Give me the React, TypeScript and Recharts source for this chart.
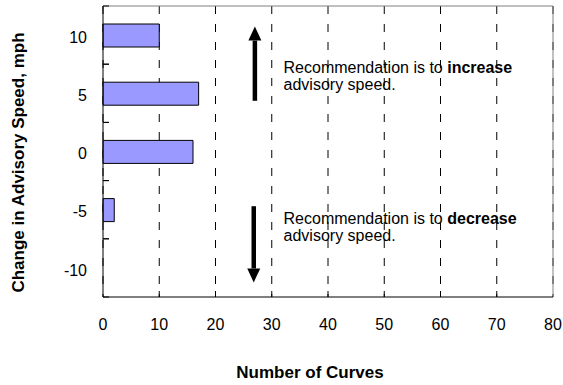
import React from 'react';
import {
  BarChart,
  Bar,
  XAxis,
  YAxis,
  CartesianGrid,
  ReferenceLine,
  ReferenceDot
} from 'recharts';

// change in advisory speed (mph), top to bottom, and how many curves got it
const speedChanges = ['10', '5', '0', '-5', '-10'];
const curveCounts = [10, 17, 16, 2, 0];

const xTicks = [0, 10, 20, 30, 40, 50, 60, 70, 80];

const data = speedChanges.map((speed, i) => ({ speed, curves: curveCounts[i] }));

const FONT = '"Liberation Sans", Arial, Helvetica, sans-serif';
const X_TICK_GAP = 22;
const Y_TICK_GAP = 16;

// arrow along a segment; tailExt / tipExt push the ends past the band centres
const makeArrow = (tailExt: number, tipExt: number) => (props: any) => {
  const { x1, y1, x2, y2 } = props;
  const dir = y2 < y1 ? -1 : 1;
  const tail = y1 - dir * tailExt;
  const tip = y2 + dir * tipExt;
  const head = 14;
  const half = 6.5;
  const baseY = tip - dir * head;
  return (
    <g>
      <line x1={x1} y1={tail} x2={x2} y2={baseY} stroke="#000" strokeWidth={4.5} />
      <polygon points={`${x2},${tip} ${x2 - half},${baseY} ${x2 + half},${baseY}`} fill="#000" />
    </g>
  );
};

const makeNote = (word: string, shift: number) => (props: any) => {
  const { cx, cy } = props;
  return (
    <text x={cx} y={cy + shift} fontSize={16} fontFamily={FONT} fill="#000">
      <tspan>Recommendation is to </tspan>
      <tspan fontWeight="bold">{word}</tspan>
      <tspan x={cx} dy={17}>advisory speed.</tspan>
    </text>
  );
};

const YTick = (props: any) => {
  const { x, y, payload } = props;
  const half = payload && payload.offset ? payload.offset : 29;
  const axisX = x + Y_TICK_GAP;
  return (
    <g>
      <line x1={axisX} y1={y - half} x2={axisX + 6} y2={y - half} stroke="#000" />
      <line x1={axisX} y1={y + half} x2={axisX + 6} y2={y + half} stroke="#000" />
      <text x={x} y={y + 2} dy="0.355em" textAnchor="end" fontSize={16} fontFamily={FONT} fill="#000">
        {payload.value}
      </text>
    </g>
  );
};

const XTick = (props: any) => {
  const { x, y, payload } = props;
  const axisY = y - X_TICK_GAP;
  const inner = payload.value > 0 && payload.value < 80;
  return (
    <g>
      {inner && <line x1={x} y1={axisY} x2={x} y2={axisY - 6} stroke="#000" />}
      <text x={x} y={y} dy="0.71em" textAnchor="middle" fontSize={16} fontFamily={FONT} fill="#000">
        {payload.value}
      </text>
    </g>
  );
};

const YTitle = (props: any) => {
  const vb = props.viewBox;
  const x = vb.x + 18;
  const y = vb.y + vb.height / 2 + 11;
  return (
    <text
      x={x}
      y={y}
      transform={`rotate(-90, ${x}, ${y})`}
      textAnchor="middle"
      dominantBaseline="central"
      fontSize={17}
      fontWeight="bold"
      fontFamily={FONT}
      fill="#000"
    >
      Change in Advisory Speed, mph
    </text>
  );
};

const XTitle = (props: any) => {
  const vb = props.viewBox;
  return (
    <text
      x={vb.x + vb.width / 2 - 18}
      y={vb.y + 75}
      textAnchor="middle"
      dominantBaseline="central"
      fontSize={17}
      fontWeight="bold"
      fontFamily={FONT}
      fill="#000"
    >
      Number of Curves
    </text>
  );
};

export default function App() {
  return (
    <div style={{ position: 'absolute', left: 0, top: 0, background: '#fff' }}>
      <BarChart
        width={563}
        height={385}
        data={data}
        layout="vertical"
        margin={{ top: 6, right: 10, bottom: 0, left: 0 }}
      >
        <CartesianGrid horizontal={false} stroke="#000" strokeDasharray="8 10" />
        {/* plot frame, top edge */}
        <CartesianGrid
          vertical={false}
          stroke="#808080"
          horizontalCoordinatesGenerator={(p: any) => [p.offset.top]}
        />
        <XAxis
          type="number"
          dataKey="curves"
          domain={[0, 80]}
          ticks={xTicks}
          height={88}
          tickLine={false}
          tickSize={0}
          tickMargin={X_TICK_GAP}
          axisLine={{ stroke: '#000' }}
          tick={XTick}
          label={{ content: XTitle }}
        />
        <YAxis
          type="category"
          dataKey="speed"
          width={103}
          tickLine={false}
          tickSize={0}
          tickMargin={Y_TICK_GAP}
          axisLine={{ stroke: '#000' }}
          tick={YTick}
          label={{ content: YTitle }}
        />
        <ReferenceLine x={80} stroke="#808080" />
        <Bar
          dataKey="curves"
          fill="#9999FF"
          stroke="#000"
          strokeWidth={1}
          barSize={23}
          isAnimationActive={false}
        />
        <ReferenceLine
          segment={[{ x: 27, y: '5' }, { x: 27, y: '10' }]}
          shape={makeArrow(7.5, 8.5)}
          ifOverflow="visible"
        />
        <ReferenceLine
          segment={[{ x: 26.8, y: '-5' }, { x: 26.8, y: '-10' }]}
          shape={makeArrow(3.5, 14.5)}
          ifOverflow="visible"
        />
        <ReferenceDot x={32.1} y="5" shape={makeNote('increase', -20.5)} ifOverflow="visible" />
        <ReferenceDot x={32.1} y="-5" shape={makeNote('decrease', 14.5)} ifOverflow="visible" />
      </BarChart>
    </div>
  );
}
